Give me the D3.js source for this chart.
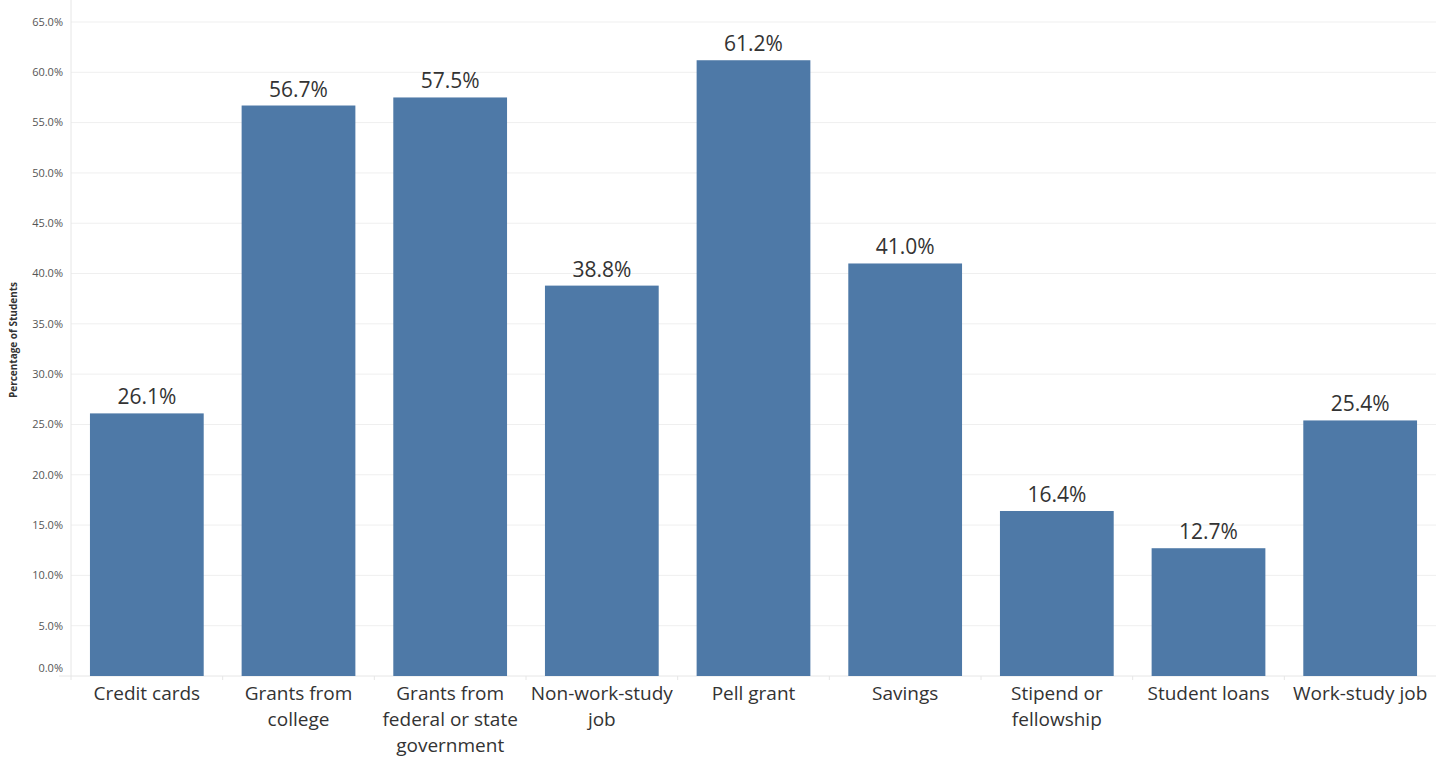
<!DOCTYPE html>
<html>
<head>
<meta charset="utf-8">
<script src="https://cdn.jsdelivr.net/npm/d3@7"></script>
<style>
  body { margin: 0; background: #fff; }
  svg { display: block; font-family: "Open Sans", "Noto Sans", sans-serif; }
</style>
</head>
<body>
<svg id="chart" width="1448" height="757"></svg>
<script>
// categories and values
var categories = [
  ["Credit cards"],
  ["Grants from", "college"],
  ["Grants from", "federal or state", "government"],
  ["Non-work-study", "job"],
  ["Pell grant"],
  ["Savings"],
  ["Stipend or", "fellowship"],
  ["Student loans"],
  ["Work-study job"]
];
var values = [26.1, 56.7, 57.5, 38.8, 61.2, 41.0, 16.4, 12.7, 25.4];
var yTicks = [0, 5, 10, 15, 20, 25, 30, 35, 40, 45, 50, 55, 60, 65];

var svg = d3.select("#chart"),
    margin = {top: 22, right: 12, bottom: 81, left: 71},
    width = 1448 - margin.left - margin.right,
    height = 757 - margin.top - margin.bottom;

var g = svg.append("g").attr("transform", "translate(" + margin.left + "," + margin.top + ")");

var x = d3.scaleBand()
    .domain(d3.range(categories.length))
    .range([0, width])
    .paddingInner(0.25)
    .paddingOuter(0.125);

var y = d3.scaleLinear().domain([0, 65]).range([height, 0]);

// gridlines
g.append("g").selectAll("line")
  .data(yTicks.slice(1))
  .join("line")
  .attr("x1", 0).attr("x2", width)
  .attr("y1", d => y(d)).attr("y2", d => y(d))
  .attr("stroke", "#efefef");

// y axis labels
g.append("g").selectAll("text")
  .data(yTicks)
  .join("text")
  .attr("x", -8)
  .attr("y", d => y(d) - (d === 0 ? 8 : 0))
  .attr("dy", "0.35em")
  .attr("text-anchor", "end")
  .attr("font-size", 11)
  .attr("fill", "#555")
  .text(d => d3.format(".1f")(d) + "%");

// axis lines
g.append("line")
  .attr("x1", 0).attr("x2", 0).attr("y1", -22).attr("y2", height + 4)
  .attr("stroke", "#e6e6e6");
g.append("line")
  .attr("x1", -12).attr("x2", width).attr("y1", height).attr("y2", height)
  .attr("stroke", "#e6e6e6");

// tick marks between categories
g.append("g").selectAll("line")
  .data(d3.range(1, categories.length))
  .join("line")
  .attr("x1", d => x.step() * d).attr("x2", d => x.step() * d)
  .attr("y1", height).attr("y2", height + 4)
  .attr("stroke", "#e6e6e6");

// bars
g.append("g").selectAll("rect")
  .data(values)
  .join("rect")
  .attr("x", (d, i) => x(i))
  .attr("width", x.bandwidth())
  .attr("y", d => y(d))
  .attr("height", d => height - y(d))
  .attr("fill", "#4e79a7");

// value labels
g.append("g").selectAll("text")
  .data(values)
  .join("text")
  .attr("x", (d, i) => x(i) + x.bandwidth() / 2)
  .attr("y", d => y(d) - 9)
  .attr("text-anchor", "middle")
  .attr("font-size", 21)
  .attr("fill", "#333")
  .text(d => d3.format(".1f")(d) + "%");

// category labels
var cat = g.append("g").selectAll("text")
  .data(categories)
  .join("text")
  .attr("text-anchor", "middle")
  .attr("font-size", 19)
  .attr("fill", "#333");
cat.each(function (lines, i) {
  d3.select(this).selectAll("tspan")
    .data(lines)
    .join("tspan")
    .attr("x", x(i) + x.bandwidth() / 2)
    .attr("y", (d, j) => height + 24 + j * 26)
    .text(d => d);
});

// y title
svg.append("text")
  .attr("transform", "translate(17,340) rotate(-90)")
  .attr("text-anchor", "middle")
  .attr("font-size", 10)
  .attr("font-weight", "bold")
  .attr("fill", "#333")
  .text("Percentage of Students");
</script>
</body>
</html>
